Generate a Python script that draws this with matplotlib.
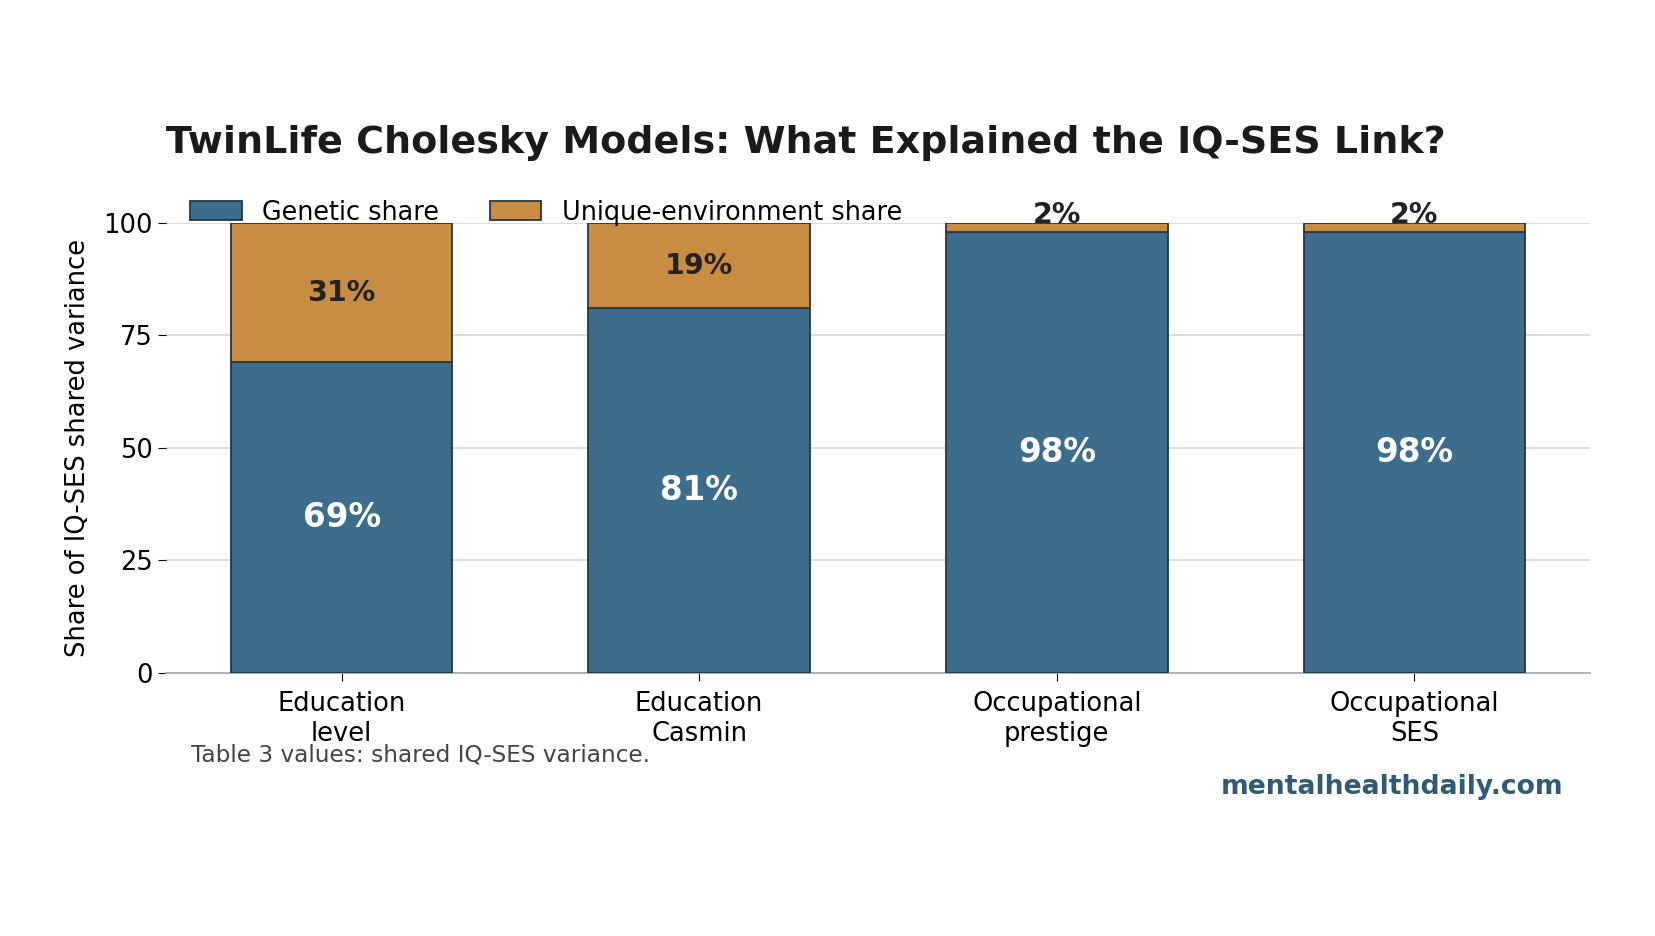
import matplotlib
matplotlib.use("Agg")
import matplotlib.pyplot as plt
import numpy as np

# Datos (Tabla 3)
categorias = ["Education\nlevel", "Education\nCasmin", "Occupational\nprestige", "Occupational\nSES"]
genetico = [69, 81, 98, 98]
ambiente_unico = [31, 19, 2, 2]

color_gen = "#3d6d8c"
color_amb = "#c88c42"
color_borde = "#243746"

fig = plt.figure(figsize=(16.55, 9.36), dpi=100)
ax = fig.add_axes([0.1003, 0.281, 0.8604, 0.481])

x = np.arange(len(categorias))
ancho = 0.62
b1 = ax.bar(x, genetico, ancho, color=color_gen, edgecolor=color_borde, linewidth=1.3,
            label="Genetic share", zorder=3)
b2 = ax.bar(x, ambiente_unico, ancho, bottom=genetico, color=color_amb, edgecolor=color_borde,
            linewidth=1.3, label="Unique-environment share", zorder=3)

# Etiquetas de porcentaje
for i in range(len(categorias)):
    g = genetico[i]
    u = ambiente_unico[i]
    ax.text(x[i], g / 2, f"{g}%", ha="center", va="center", color="white",
            fontsize=23.5, fontweight="bold", zorder=4)
    if u >= 5:
        ax.text(x[i], g + u / 2, f"{u}%", ha="center", va="center", color="#222222",
                fontsize=20.5, fontweight="bold", zorder=4)
    else:
        ax.text(x[i], g + u, f"{u}%", ha="center", va="baseline", color="#222222",
                fontsize=20.5, fontweight="bold", zorder=4)

ax.set_ylim(0, 100)
ax.set_yticks([0, 25, 50, 75, 100])
ax.set_xticks(x)
ax.set_xticklabels(categorias)
ax.tick_params(axis="both", labelsize=18.5, length=6)
ax.tick_params(axis="x", pad=7)
ax.set_ylabel("Share of IQ-SES shared variance", fontsize=18.5, labelpad=9)

ax.grid(axis="y", color="#d5dbe1", linewidth=1.3, zorder=0)
ax.set_axisbelow(True)
for s in ["top", "right", "left"]:
    ax.spines[s].set_visible(False)
ax.spines["bottom"].set_color("#aaaaaa")
ax.spines["bottom"].set_linewidth(1.3)

ax.legend(loc="lower left", bbox_to_anchor=(0.01, 0.971), ncol=2, frameon=False,
          fontsize=18.4, handlelength=2.0, handleheight=0.8, columnspacing=2.0,
          borderaxespad=0)

ax.set_title("TwinLife Cholesky Models: What Explained the IQ-SES Link?", loc="left",
             fontsize=27.4, fontweight="bold", color="#1a1a1a", pad=50)

fig.text(0.1155, 0.193, "Table 3 values: shared IQ-SES variance.", fontsize=16.7,
         color="#444444", va="center")
fig.text(0.9445, 0.159, "mentalhealthdaily.com", fontsize=19.2, fontweight="bold",
         color="#2f5b78", ha="right", va="center")

fig.savefig("out.png", dpi=100)
